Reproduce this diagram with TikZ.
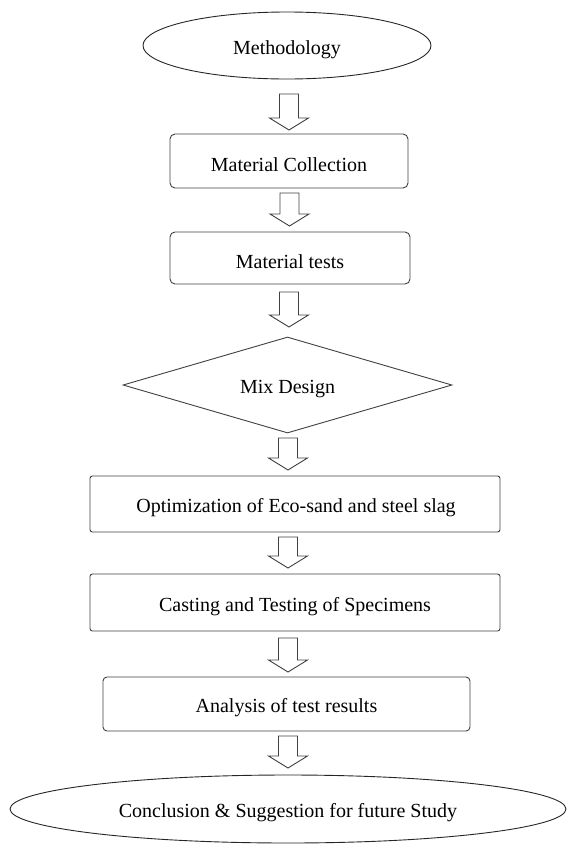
\documentclass[tikz,border=0pt]{standalone}
\usepackage{fontspec}
\setmainfont{Liberation Serif}
\usetikzlibrary{shapes.geometric,calc}

\tikzset{
  outline/.style={draw=black!75, line width=0.9pt},
  roundbox/.style={outline, rectangle, rounded corners=5pt, inner sep=0pt},
  flatbox/.style={outline, rectangle, rounded corners=2.5pt, inner sep=0pt},
  oval/.style={outline, draw=black!85, ellipse, inner sep=0pt},
  decision/.style={outline, diamond, inner sep=0pt},
  caption/.style={font=\fontsize{20}{24}\selectfont, inner sep=0pt, yshift=-4pt},
  % hollow block arrow from the start coordinate down to the tip coordinate
  blockarrow/.style={outline, line join=miter, to path={
    let \p1=(\tikztostart), \p2=(\tikztotarget) in
    (\x1-9.5pt,\y1) -- (\x1+9.5pt,\y1) -- (\x1+9.5pt,\y2+12pt)
    -- (\x1+19.5pt,\y2+12pt) -- (\x2,\y2) -- (\x1-19.5pt,\y2+12pt)
    -- (\x1-9.5pt,\y2+12pt) -- cycle}}
}

\begin{document}
\begin{tikzpicture}[x=1pt,y=-1pt]
\useasboundingbox (0,0) rectangle (571,844);

% process steps
\node[oval, minimum width=288pt, minimum height=67pt] (meth) at (287,45.5) {};
\node[roundbox, minimum width=238pt, minimum height=54pt] (mc) at (289,161) {};
\node[roundbox, minimum width=240pt, minimum height=52pt] (mt) at (290,258) {};
\node[decision, minimum width=329pt, minimum height=96pt] (mix) at (287.5,385) {};
\node[flatbox, minimum width=410pt, minimum height=56pt] (opt) at (295,504) {};
\node[flatbox, minimum width=410pt, minimum height=57pt] (cast) at (295,602.5) {};
\node[roundbox, rounded corners=4pt, minimum width=367pt, minimum height=54pt] (anal) at (286.5,704) {};
\node[oval, minimum width=556pt, minimum height=68pt] (conc) at (288,809) {};

% step texts
\node[caption] (methT) at (meth) {Methodology};
\node[caption] (mcT) at (mc) {Material Collection};
\node[caption] (mtT) at (mt) {Material tests};
\node[caption] (mixT) at (mix) {Mix Design};
\node[caption] (optT) at ([xshift=1pt]opt.center) {Optimization of Eco-sand and steel slag};
\node[caption] (castT) at (cast) {Casting and Testing of Specimens};
\node[caption] (analT) at (anal) {Analysis of test results};
\node[caption] (concT) at (conc) {Conclusion \& Suggestion for future Study};

% arrow end points between the steps
\coordinate (a1s) at (289,94);  \coordinate (a1e) at (289,130);
\coordinate (a2s) at (289.5,193); \coordinate (a2e) at (289.5,226);
\coordinate (a3s) at (289,292); \coordinate (a3e) at (289,327);
\coordinate (a4s) at (288,438); \coordinate (a4e) at (288,470);
\coordinate (a5s) at (288,537); \coordinate (a5e) at (288,568);
\coordinate (a6s) at (288,638); \coordinate (a6e) at (288,672);
\coordinate (a7s) at (288,736); \coordinate (a7e) at (288,768);

\draw[blockarrow] (a1s) to (a1e);
\draw[blockarrow] (a2s) to (a2e);
\draw[blockarrow] (a3s) to (a3e);
\draw[blockarrow] (a4s) to (a4e);
\draw[blockarrow] (a5s) to (a5e);
\draw[blockarrow] (a6s) to (a6e);
\draw[blockarrow] (a7s) to (a7e);
\end{tikzpicture}
\end{document}
